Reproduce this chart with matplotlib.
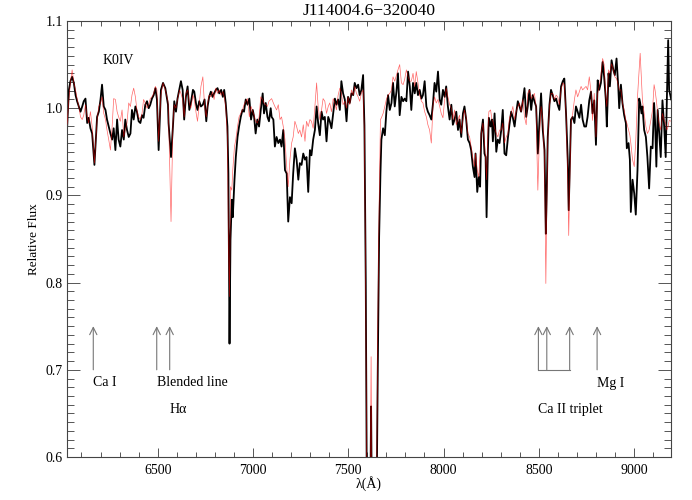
import numpy as np
import matplotlib
matplotlib.use("Agg")
from matplotlib import pyplot as plt
from matplotlib.ticker import MultipleLocator, FormatStrFormatter

plt.rcParams['font.family'] = ['Liberation Serif', 'DejaVu Serif']

# wavelength grid (A), observed spectrum (black) and K0IV template (red)
wave = [
    6020, 6025, 6034, 6042, 6051, 6060, 6069, 6077, 6086, 6095, 6104, 6112, 6121, 6130, 6138, 6147, 6156, 6168,
    6182, 6191, 6200, 6208, 6217, 6226, 6234, 6243, 6252, 6261, 6269, 6278, 6287, 6295, 6304, 6313, 6322, 6330,
    6339, 6348, 6357, 6365, 6374, 6383, 6391, 6400, 6409, 6418, 6426, 6435, 6444, 6453, 6461, 6470, 6479, 6488,
    6496, 6505, 6517, 6528, 6540, 6554,
    6557, 6570, 6580, 6587, 6596, 6604, 6615, 6622, 6631, 6639, 6648, 6657, 6666, 6674, 6685, 6692, 6702, 6709,
    6718, 6727, 6737, 6746, 6755, 6762, 6770, 6779, 6788, 6796, 6805, 6814, 6823, 6833, 6842, 6849, 6857, 6866,
    6871, 6877, 6882, 6889, 6894, 6903, 6910, 6919, 6927, 6936, 6945, 6953, 6962, 6971, 6981, 6990, 6999, 7006,
    7014, 7023, 7032, 7041, 7051, 7058, 7067, 7076, 7084, 7093,
    7098, 7107, 7115, 7124, 7133, 7142, 7150, 7159, 7168, 7177, 7185, 7194, 7203, 7211, 7220, 7229, 7238, 7246,
    7255, 7264, 7273, 7281, 7290, 7299, 7307, 7316, 7325, 7334, 7342, 7351, 7360, 7368, 7377, 7386, 7395, 7403,
    7412, 7421, 7430, 7438, 7447, 7456, 7464, 7473, 7482, 7491, 7499, 7508, 7517, 7526, 7534, 7543, 7552, 7560,
    7569, 7578,
    7585, 7592, 7600, 7612, 7620, 7627, 7645, 7655,
    7662, 7669, 7674, 7683, 7692, 7700, 7709, 7718, 7727, 7735, 7744, 7753, 7761, 7770, 7779, 7788, 7796, 7805,
    7814, 7823, 7831, 7840, 7849, 7857, 7866, 7875, 7884, 7892, 7901, 7910, 7918, 7927, 7936, 7945, 7953, 7962,
    7971, 7980, 7988, 7997, 8006, 8014, 8023, 8032, 8041, 8049, 8058, 8067, 8076, 8084, 8093, 8102, 8110, 8119,
    8128, 8137, 8145, 8154, 8163, 8168, 8177, 8185, 8192,
    8198, 8207, 8215, 8221, 8226, 8233, 8238, 8247, 8254, 8259, 8268, 8277, 8285, 8294, 8303, 8311, 8320, 8329,
    8338, 8346, 8355, 8364, 8373, 8381, 8390, 8399, 8407, 8416, 8425, 8434, 8442, 8451, 8460, 8468, 8477, 8486,
    8491, 8495, 8503, 8512, 8521, 8530, 8537, 8542, 8547, 8556, 8564, 8573, 8582, 8591, 8599, 8608, 8617, 8626,
    8634, 8643, 8652, 8657, 8664, 8669, 8678, 8687, 8695, 8704, 8713, 8722, 8730, 8739,
    8748, 8756, 8765, 8774, 8782, 8791, 8800, 8809, 8817, 8826, 8835, 8843, 8852, 8857, 8866, 8873, 8882, 8891,
    8899, 8908, 8917, 8922, 8931, 8939, 8948, 8957, 8962, 8971, 8978, 8983, 8992, 9001, 9009, 9018, 9027, 9032,
    9039, 9044, 9053, 9062, 9070, 9079, 9088, 9097, 9105, 9110, 9117, 9124, 9131, 9140, 9149, 9158, 9166, 9172,
    9179, 9184, 9195,
]

flux_star = [
    0.975, 0.979, 1.021, 1.031, 1.036, 1.029, 1.015, 1.008, 1.002, 0.996, 1.002, 1.008, 1.011, 0.983, 0.989, 0.977, 0.971, 0.935,
    0.990, 0.996, 1.010, 1.027, 1.002, 0.998, 0.987, 0.979, 0.971, 0.964, 0.977, 0.952, 0.987, 0.964, 0.956, 0.975, 0.964, 0.987,
    0.975, 0.967, 0.971, 0.998, 0.987, 1.002, 0.996, 0.985, 0.983, 0.992, 0.989, 1.004, 1.008, 1.000, 1.004, 1.011, 1.015, 1.023,
    1.010, 0.952, 1.021, 1.029, 1.023, 1.004,
    0.983, 0.944, 0.979, 1.008, 0.996, 1.011, 1.023, 1.031, 1.021, 0.987, 1.013, 1.025, 0.998, 1.006, 1.021, 1.019, 1.004, 0.998,
    1.008, 1.002, 1.004, 1.010, 0.985, 1.002, 1.013, 1.019, 1.013, 1.017, 1.021, 1.023, 1.017, 1.021, 1.013, 1.021, 1.006, 0.979,
    0.925, 0.730, 0.849, 0.895, 0.875, 0.918, 0.944, 0.967, 0.979, 0.990, 0.998, 0.996, 1.010, 1.004, 1.011, 0.987, 0.998, 0.990,
    0.971, 0.987, 0.979, 0.998, 1.017, 0.994, 1.006, 0.990, 0.985, 1.000,
    0.990, 0.987, 0.956, 0.967, 0.960, 0.964, 0.956, 0.975, 0.929, 0.925, 0.870, 0.898, 0.891, 0.925, 0.954, 0.941, 0.918, 0.937,
    0.935, 0.948, 0.941, 0.944, 0.904, 0.952, 0.946, 0.964, 0.975, 1.002, 0.983, 0.969, 0.996, 0.987, 0.990, 0.962, 0.990, 0.985,
    0.977, 0.994, 1.011, 1.004, 1.010, 0.998, 1.031, 1.017, 1.010, 0.985, 1.013, 1.006, 1.017, 1.015, 1.029, 1.023, 1.027, 1.015,
    1.021, 1.038,
    0.980, 0.800, 0.450, 0.450, 0.658, 0.450, 0.450, 0.700,
    0.852, 0.925, 0.964, 0.977, 0.969, 0.996, 1.015, 0.998, 1.006, 1.029, 1.002, 1.019, 1.040, 0.992, 1.013, 1.008, 1.011, 1.008,
    1.042, 1.025, 0.998, 1.029, 1.017, 1.029, 1.015, 1.021, 1.011, 1.015, 1.031, 1.002, 0.996, 0.992, 0.987, 1.006, 1.029, 1.019,
    1.042, 1.010, 1.004, 1.021, 1.013, 1.025, 1.002, 0.987, 1.004, 0.981, 0.987, 0.996, 0.975, 0.987, 0.967, 0.994, 1.002, 0.987,
    0.964, 0.960, 0.952, 0.933, 0.921, 0.948, 0.904, 0.921, 0.910,
    0.971, 0.987, 0.948, 0.944, 0.875, 0.952, 0.989, 0.979, 0.987, 0.962, 0.994, 0.950, 0.964, 0.960, 0.975, 0.998, 0.948, 0.946,
    0.966, 0.981, 0.996, 0.989, 0.979, 0.994, 1.008, 1.002, 0.996, 1.008, 1.023, 0.990, 1.002, 1.021, 0.998, 1.015, 1.008, 1.002,
    0.975, 0.948, 0.983, 1.017, 0.975, 0.952, 0.856, 0.906, 0.967, 1.004, 1.021, 1.015, 1.008, 1.011, 1.004, 0.998, 1.025, 1.031,
    1.034, 0.994, 0.941, 0.883, 0.944, 0.987, 0.990, 0.983, 1.002, 0.996, 0.989, 1.004, 0.987, 0.979,
    0.979, 0.990, 1.009, 1.019, 0.994, 1.009, 0.958, 1.032, 1.021, 1.029, 1.053, 1.036, 1.009, 0.979, 1.040, 1.025, 1.055, 1.044,
    1.038, 1.057, 1.025, 1.000, 1.027, 1.006, 0.992, 0.983, 0.954, 0.960, 0.941, 0.881, 0.918, 0.902, 0.878, 0.929, 1.011, 1.006,
    0.994, 1.002, 0.975, 0.967, 0.944, 0.908, 0.956, 0.954, 1.006, 0.986, 0.933, 0.998, 0.975, 0.944, 1.009, 0.979, 0.944, 1.009,
    1.078, 1.021, 1.010,
]

flux_templ = [
    0.978, 0.983, 1.010, 1.029, 1.044, 1.029, 1.021, 1.011, 1.002, 0.990, 0.987, 0.992, 1.004, 0.990, 0.983, 0.996, 0.979, 0.937,
    0.987, 1.002, 1.006, 1.013, 0.994, 0.987, 0.975, 0.964, 0.952, 0.979, 1.011, 1.010, 0.996, 0.990, 0.985, 0.998, 0.967, 0.975,
    0.983, 1.006, 1.002, 1.015, 1.023, 1.013, 0.998, 0.990, 0.987, 0.994, 1.010, 1.006, 1.000, 1.004, 1.011, 1.013, 1.017, 1.025,
    1.021, 0.962, 1.015, 1.029, 1.021, 1.008,
    0.990, 0.870, 0.983, 1.004, 1.000, 1.010, 1.021, 1.017, 1.010, 0.990, 1.017, 1.021, 1.006, 1.000, 1.015, 1.010, 0.994, 0.985,
    1.004, 1.025, 1.036, 1.002, 0.990, 1.006, 1.015, 1.013, 1.019, 1.010, 1.023, 1.017, 1.021, 1.015, 1.019, 1.013, 1.002, 0.967,
    0.850, 0.784, 0.910, 0.906, 0.929, 0.956, 0.964, 0.979, 0.990, 0.994, 0.998, 1.004, 1.008, 1.011, 0.990, 1.002, 0.996, 0.992,
    0.985, 0.983, 0.990, 1.013, 1.010, 1.006, 1.004, 1.002, 1.008, 1.010,
    1.011, 1.006, 1.002, 0.998, 1.004, 0.987, 0.990, 0.979, 0.964, 0.933, 0.910, 0.941, 0.960, 0.967, 0.985, 0.979, 0.971, 0.975,
    0.967, 0.981, 0.962, 0.985, 0.979, 0.987, 0.985, 0.977, 1.002, 1.029, 1.002, 0.987, 0.998, 1.011, 1.008, 0.994, 1.002, 1.006,
    0.996, 1.011, 1.006, 0.998, 1.015, 1.023, 1.017, 1.004, 1.008, 1.000, 1.013, 1.004, 1.021, 1.015, 1.025, 1.017, 1.013, 1.008,
    1.017, 1.021,
    0.970, 0.780, 0.450, 0.450, 0.715, 0.450, 0.450, 0.750,
    0.887, 0.987, 0.989, 0.994, 1.002, 1.010, 1.015, 1.017, 1.021, 1.036, 1.031, 1.038, 1.044, 1.050, 1.029, 1.027, 1.033, 1.044,
    1.036, 1.031, 1.031, 1.040, 1.025, 1.042, 1.029, 1.015, 1.008, 1.006, 0.996, 0.990, 0.981, 0.975, 0.960, 1.004, 1.013, 1.006,
    1.010, 1.002, 0.994, 0.989, 1.010, 1.023, 1.013, 1.004, 1.000, 0.987, 0.998, 0.981, 0.987, 0.992, 0.971, 0.987, 0.998, 0.989,
    0.971, 0.967, 0.956, 0.943, 0.933, 0.948, 0.929, 0.921, 0.948,
    0.971, 0.983, 0.960, 0.941, 0.918, 0.975, 0.996, 0.998, 0.987, 0.985, 0.977, 0.971, 0.967, 0.975, 0.975, 0.983, 0.960, 0.967,
    0.971, 0.989, 0.994, 1.002, 0.987, 0.996, 1.002, 1.006, 0.996, 1.010, 0.990, 0.981, 1.017, 1.021, 1.011, 1.013, 1.017, 1.002,
    0.944, 0.906, 0.964, 1.002, 0.987, 0.941, 0.799, 0.887, 0.964, 1.002, 1.017, 1.017, 1.010, 1.015, 1.013, 1.004, 1.021, 1.029,
    1.027, 0.994, 0.918, 0.854, 0.933, 0.983, 0.994, 1.010, 1.021, 1.013, 1.019, 1.025, 1.021, 1.023,
    1.025, 1.021, 1.036, 1.019, 0.986, 1.017, 0.967, 1.017, 1.025, 1.038, 1.057, 1.050, 1.013, 1.002, 1.044, 1.040, 1.051, 1.044,
    1.036, 1.034, 1.027, 1.021, 1.021, 1.006, 0.998, 0.986, 0.983, 0.975, 0.969, 0.960, 0.941, 0.933, 0.963, 1.013, 1.044, 1.063,
    1.032, 1.009, 0.994, 0.979, 0.971, 0.975, 0.986, 0.998, 1.027, 1.021, 1.009, 0.994, 0.983, 0.975, 0.994, 0.986, 0.983, 0.975,
    0.979, 0.986, 0.985,
]

# marked lines
ca1_wave = [6162]
blend_wave = [6495, 6563]
ca2_wave = [8498, 8542, 8662]
mg1_wave = [8806]

fig = plt.figure(figsize=(6.92, 5.0), dpi=100)
ax = fig.add_axes([0.0968, 0.086, 0.8729, 0.872])

ax.plot(wave, flux_star, color='black', lw=1.3, zorder=2)
ax.plot(wave, flux_templ, color='red', lw=0.5, alpha=0.6, zorder=3)

ax.set_xlim(6024, 9194)
ax.set_ylim(0.6, 1.1)
ax.xaxis.set_major_locator(MultipleLocator(500))
ax.xaxis.set_minor_locator(MultipleLocator(100))
ax.yaxis.set_major_locator(MultipleLocator(0.1))
ax.yaxis.set_minor_locator(MultipleLocator(0.01))
ax.yaxis.set_major_formatter(FormatStrFormatter('%.1f'))
ax.tick_params(which='both', direction='in', top=True, right=True, labelsize=10, width=0.7, color='#555555')
ax.tick_params(axis='x', which='major', length=6.5, pad=5)
ax.tick_params(axis='x', which='minor', length=3.5)
ax.tick_params(axis='y', which='major', length=9.5, pad=3)
ax.tick_params(axis='y', which='minor', length=5)
for sp in ax.spines.values():
    sp.set_linewidth(0.8)
    sp.set_color('#444444')

ax.set_title('J114004.6\u2212320040', fontsize=12.5, pad=4)
ax.set_xlabel('\u03bb(\u00c5)', fontsize=10, labelpad=-1)
ax.set_ylabel('Relative Flux', fontsize=9.5, labelpad=4)

arr = dict(arrowstyle='->', color='#777777', lw=0.8, shrinkA=0, shrinkB=0, mutation_scale=13)
for w in ca1_wave + blend_wave + ca2_wave + mg1_wave:
    ax.annotate('', xy=(w, 0.75), xytext=(w, 0.70), arrowprops=arr)
ax.plot([ca2_wave[0], ca2_wave[-1]], [0.70, 0.70], color='#777777', lw=0.8)

ax.text(6208, 1.055, 'K0IV', fontsize=10, va='center')
ax.text(ca1_wave[0], 0.685, 'Ca I', fontsize=10, va='center')
ax.text(blend_wave[0], 0.685, 'Blended line', fontsize=10, va='center')
ax.text(blend_wave[1], 0.654, 'H\u03b1', fontsize=10, va='center')
ax.text(mg1_wave[0], 0.684, 'Mg I', fontsize=10, va='center')
ax.text(ca2_wave[0], 0.654, 'Ca II triplet', fontsize=10, va='center')

fig.savefig('out.png', dpi=100)
